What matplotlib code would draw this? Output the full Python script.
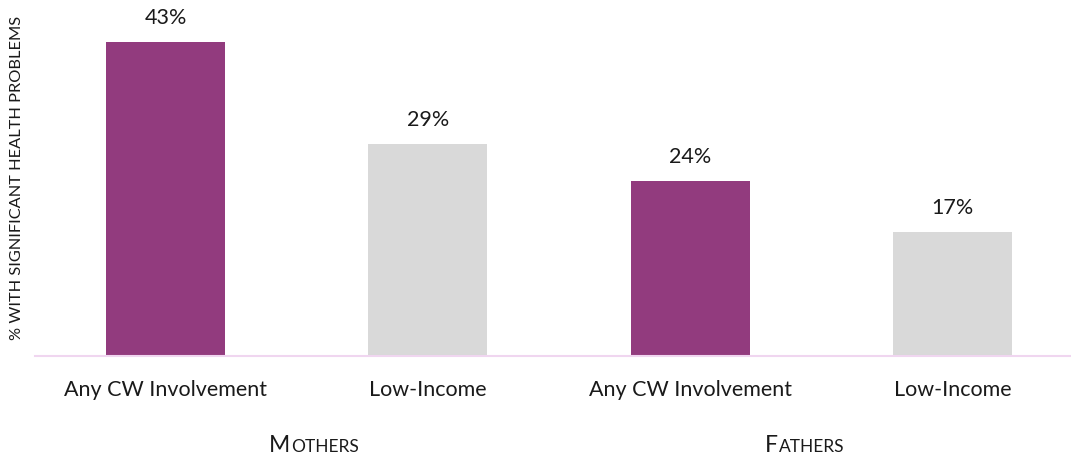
import matplotlib
matplotlib.use("Agg")
import matplotlib.pyplot as plt

categories = ["Any CW Involvement", "Low-Income", "Any CW Involvement", "Low-Income"]
values = [43, 29, 24, 17]
groups = ["Mothers", "Fathers"]
ylabel = "% WITH SIGNIFICANT HEALTH PROBLEMS"

PURPLE = "#923B7E"
GRAY = "#D9D9D9"
colors = [PURPLE, GRAY, PURPLE, GRAY]

plt.rcParams["font.family"] = ["Lato", "DejaVu Sans"]

W, H = 1071, 457
fig = plt.figure(figsize=(W / 100, H / 100), dpi=100)
ax = fig.add_axes([35 / W, (H - 356) / H, (1071 - 35) / W, 356 / H])

x = list(range(len(values)))
ax.bar(x, values, width=0.454, color=colors, zorder=2)
ax.set_xlim(-0.4975, 3.452)
ax.set_ylim(0, 48.7)

for xi, v in zip(x, values):
    ax.annotate(f"{v}%", (xi, v), xytext=(0, 10), textcoords="offset points",
                ha="center", va="bottom", fontsize=15.5, color="#1a1a1a")

for s in ["top", "right", "left"]:
    ax.spines[s].set_visible(False)
ax.spines["bottom"].set_color("#F0D6F0")
ax.spines["bottom"].set_linewidth(1.5)
ax.set_yticks([])
ax.set_xticks(x)
ax.set_xticklabels(categories, fontsize=15.5, color="#1a1a1a")
ax.tick_params(axis="x", length=0, pad=17)

fig.text(17 / W, 1 - 178 / H, ylabel, rotation=90, ha="center", va="center",
         fontsize=11.8, color="#1a1a1a")

# group labels in small caps: first letter full size, rest smaller
fig.canvas.draw()
renderer = fig.canvas.get_renderer()
for name, left in zip(groups, [269, 765]):
    t1 = fig.text(left / W, 1 - 452 / H, name[0].upper(), fontsize=16.5,
                  ha="left", va="baseline", color="#1a1a1a")
    bb = t1.get_window_extent(renderer)
    fig.text((bb.x1 + 0.5) / W, 1 - 452 / H, name[1:].upper(), fontsize=12.5,
             ha="left", va="baseline", color="#1a1a1a")

fig.savefig("out.png", dpi=100)
